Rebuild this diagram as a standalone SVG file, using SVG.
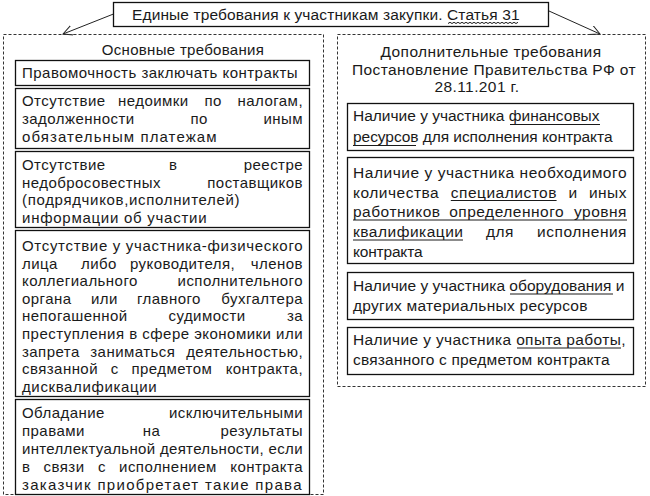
<svg xmlns="http://www.w3.org/2000/svg" width="650" height="496" viewBox="0 0 650 496">
<style>
.box{fill:#fff;stroke:#111;stroke-width:1.3}
.dash{fill:none;stroke:#333;stroke-width:1;stroke-dasharray:3 2}
text{font-family:"Liberation Sans",Arial,sans-serif;font-size:15px;fill:#1a1a1a;letter-spacing:0.45px}
.r text{font-size:15.5px;letter-spacing:0.5px}
.h{letter-spacing:0.3px}
.r .h{letter-spacing:0.4px}
.e{text-anchor:end}
.m{text-anchor:middle}
.ul{stroke:#1a1a1a;stroke-width:1}
.con{stroke:#222;stroke-width:1;fill:none}
</style>
<defs>
<marker id="ah" markerWidth="12" markerHeight="12" refX="10" refY="5" orient="auto" markerUnits="userSpaceOnUse">
<path d="M0,0 L10,5 L0,10" fill="none" stroke="#222" stroke-width="1"/>
</marker>
</defs>
<rect width="650" height="496" fill="#fff"/>
<g id="connectors">
<line class="con" x1="116" y1="13" x2="63" y2="34" marker-end="url(#ah)"/>
<line class="con" x1="549" y1="11" x2="600" y2="34" marker-end="url(#ah)"/>
</g>
<g id="title">
<rect class="box" x="113.5" y="2.5" width="435" height="24"/>
<text x="132" y="19.5" style="font-size:15.5px" textLength="388" lengthAdjust="spacing">Единые требования к участникам закупки. Статья 31</text>
<path class="ul" fill="none" d="M448,23.5 l2,-1.2 l2,1.2 l2,-1.2 l2,1.2 l2,-1.2 l2,1.2 l2,-1.2 l2,1.2 l2,-1.2 l2,1.2 l2,-1.2 l2,1.2 l2,-1.2 l2,1.2 l2,-1.2 l2,1.2 l2,-1.2 l2,1.2 l2,-1.2 l2,1.2 l2,-1.2 l2,1.2 l2,-1.2 l2,1.2 l2,-1.2 l2,1.2 l2,-1.2 l2,1.2 l2,-1.2 l2,1.2 l2,-1.2 l2,1.2 l2,-1.2 l2,1.2 l2,-1.2"/>
</g>
<g id="main">
<rect class="dash" x="3.5" y="34.5" width="320" height="460"/>
<text class="m h" x="183" y="55">Основные требования</text>
</g>
<g id="m1">
<rect class="box" x="15.5" y="60.5" width="294" height="25"/>
<text x="22" y="78" textLength="276" lengthAdjust="spacing">Правомочность заключать контракты</text>
</g>
<g id="m2">
<rect class="box" x="15.5" y="88.5" width="294" height="60"/>
<text x="22" y="106">Отсутствие</text><text x="118" y="106">недоимки</text><text x="204.5" y="106">по</text><text class="e" x="303" y="106">налогам,</text>
<text x="22" y="124">задолженности</text><text x="190.5" y="124">по</text><text class="e" x="303" y="124">иным</text>
<text x="22" y="142" textLength="195" lengthAdjust="spacing">обязательным платежам</text>
</g>
<g id="m3">
<rect class="box" x="15.5" y="151.5" width="294" height="76"/>
<text x="22" y="170">Отсутствие</text><text x="169" y="170">в</text><text class="e" x="303" y="170">реестре</text>
<text x="22" y="187.5">недобросовестных</text><text class="e" x="303" y="187.5">поставщиков</text>
<text x="22" y="205" textLength="218" lengthAdjust="spacing">(подрядчиков,исполнителей)</text>
<text x="22" y="222.5" textLength="185" lengthAdjust="spacing">информации об участии</text>
</g>
<g id="m4">
<rect class="box" x="15.5" y="230.5" width="294" height="166"/>
<text x="22" y="251" textLength="281" lengthAdjust="spacing">Отсутствие у участника-физического</text>
<text x="22" y="268.6">лица</text><text x="81" y="268.6">либо</text><text x="130" y="268.6">руководителя,</text><text class="e" x="303" y="268.6">членов</text>
<text x="22" y="286.2">коллегиального</text><text class="e" x="303" y="286.2">исполнительного</text>
<text x="22" y="303.8">органа</text><text x="91" y="303.8">или</text><text x="137" y="303.8">главного</text><text class="e" x="303" y="303.8">бухгалтера</text>
<text x="22" y="321.4">непогашенной</text><text x="168.5" y="321.4">судимости</text><text class="e" x="303" y="321.4">за</text>
<text x="22" y="339" textLength="281" lengthAdjust="spacing">преступления в сфере экономики или</text>
<text x="22" y="356.6">запрета</text><text x="90.3" y="356.6">заниматься</text><text class="e" x="303" y="356.6">деятельностью,</text>
<text x="22" y="374.2">связанной</text><text x="110.8" y="374.2">с</text><text x="131.4" y="374.2">предметом</text><text class="e" x="303" y="374.2">контракта,</text>
<text x="22" y="391.8" textLength="135" lengthAdjust="spacing">дисквалификации</text>
</g>
<g id="m5">
<rect class="box" x="15.5" y="399.5" width="294" height="95"/>
<text x="22" y="418">Обладание</text><text class="e" x="303" y="418">исключительными</text>
<text x="22" y="436">правами</text><text x="142.7" y="436">на</text><text class="e" x="303" y="436">результаты</text>
<text x="22" y="454" textLength="281" lengthAdjust="spacing">интеллектуальной деятельности, если</text>
<text x="22" y="472">в</text><text x="43.6" y="472">связи</text><text x="97.9" y="472">с</text><text x="119.1" y="472">исполнением</text><text class="e" x="303" y="472">контракта</text>
<text x="22" y="490" textLength="280" lengthAdjust="spacing">заказчик приобретает такие права</text>
</g>
<g id="extra" class="r">
<rect class="dash" x="337.5" y="34.5" width="308" height="352"/>
<text class="m h" x="491" y="56.5">Дополнительные требования</text>
<text class="m h" x="494" y="74.5">Постановление Правительства РФ от</text>
<text class="m h" x="477" y="92">28.11.201 г.</text>
</g>
<g id="e1" class="r">
<rect class="box" x="347.5" y="103.5" width="286" height="47"/>
<text x="353" y="121" textLength="247" lengthAdjust="spacing">Наличие у участника финансовых</text>
<text x="353" y="142" textLength="260" lengthAdjust="spacing">ресурсов для исполнения контракта</text>
<line class="ul" x1="510" y1="124.5" x2="600" y2="124.5"/>
<line class="ul" x1="353" y1="145.5" x2="416" y2="145.5"/>
</g>
<g id="e2" class="r">
<rect class="box" x="347.5" y="157.5" width="286" height="106"/>
<text x="353" y="178" textLength="274" lengthAdjust="spacing">Наличие у участника необходимого</text>
<text x="353" y="197.5">количества</text><text x="450.8" y="197.5">специалистов</text><text x="568.4" y="197.5">и</text><text class="e" x="627" y="197.5">иных</text>
<text x="353" y="217">работников</text><text x="449.2" y="217">определенного</text><text class="e" x="627" y="217">уровня</text>
<text x="353" y="237">квалификации</text><text x="486" y="237">для</text><text class="e" x="627" y="237">исполнения</text>
<text x="353" y="256.5" textLength="70" lengthAdjust="spacing">контракта</text>
<line class="ul" x1="450.8" y1="200.5" x2="556.6" y2="200.5"/>
<line class="ul" x1="353" y1="220" x2="627" y2="220"/>
<line class="ul" x1="353" y1="240" x2="463" y2="240"/>
</g>
<g id="e3" class="r">
<rect class="box" x="347.5" y="272.5" width="286" height="47"/>
<text x="353" y="291" textLength="272" lengthAdjust="spacing">Наличие у участника оборудования и</text>
<text x="353" y="310.5" textLength="235" lengthAdjust="spacing">других материальных ресурсов</text>
<line class="ul" x1="510" y1="294" x2="613" y2="294"/>
</g>
<g id="e4" class="r">
<rect class="box" x="347.5" y="327.5" width="286" height="47"/>
<text x="353" y="345" textLength="273" lengthAdjust="spacing">Наличие у участника опыта работы,</text>
<text x="353" y="365" textLength="257" lengthAdjust="spacing">связанного с предметом контракта</text>
<line class="ul" x1="517" y1="348" x2="621" y2="348"/>
</g>
</svg>
